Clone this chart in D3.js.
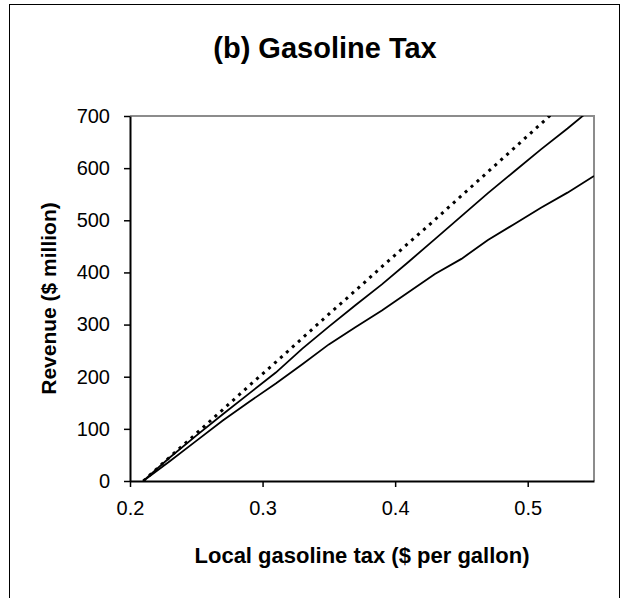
<!DOCTYPE html>
<html>
<head>
<meta charset="utf-8">
<script src="https://cdn.jsdelivr.net/npm/d3@7/dist/d3.min.js"></script>
<style>
  html, body { margin: 0; padding: 0; background: #fff; }
  svg { display: block; font-family: "Liberation Sans", Arial, sans-serif; }
</style>
</head>
<body>
<svg id="chart" width="624" height="598"></svg>
<script>
// Local gasoline tax rate ($ per gallon)
const taxRates = [0.21, 0.23, 0.25, 0.27, 0.29, 0.31, 0.33, 0.35, 0.37, 0.39,
                  0.41, 0.43, 0.45, 0.47, 0.49, 0.51, 0.53, 0.55];

// Revenue ($ million) for the three scenarios
const revenueDotted = [0, 46, 91, 137, 183, 228, 274, 320, 365, 411,
                       456, 501, 547, 593, 639, 685, 731, 776];
const revenueUpper  = [0, 45, 87, 128, 168, 208, 254, 296, 337, 377,
                       420, 464, 508, 552, 594, 636, 676, 718];
const revenueLower  = [0, 38, 77, 116, 152, 187, 224, 262, 295, 327,
                       362, 397, 426, 462, 493, 524, 553, 585];

const xTicks = [0.2, 0.3, 0.4, 0.5];
const yTicks = [0, 100, 200, 300, 400, 500, 600, 700];

const titleText = "(b) Gasoline Tax";
const xTitle = "Local gasoline tax ($ per gallon)";
const yTitle = "Revenue ($ million)";

const svg = d3.select("#chart");
const plot = { left: 130, right: 594, top: 116, bottom: 481 };

const x = d3.scaleLinear().domain([0.2, 0.55]).range([plot.left, plot.right]);
const y = d3.scaleLinear().domain([0, 700]).range([plot.bottom, plot.top]);

// Outer chart frame
svg.append("rect")
  .attr("x", 9.5).attr("y", 4.5)
  .attr("width", 610).attr("height", 620)
  .attr("fill", "none").attr("stroke", "#000").attr("stroke-width", 1);

// Title
svg.append("text")
  .attr("x", 325).attr("y", 58)
  .attr("text-anchor", "middle")
  .attr("font-size", 29).attr("font-weight", "bold")
  .text(titleText);

// Plot-area border (top and right sides grey)
svg.append("path")
  .attr("d", `M${plot.left},${plot.top}H${plot.right}V${plot.bottom}`)
  .attr("fill", "none").attr("stroke", "#8c8c8c").attr("stroke-width", 2);

// Clip lines to the plot area
svg.append("clipPath").attr("id", "plotClip")
  .append("rect")
  .attr("x", plot.left).attr("y", plot.top)
  .attr("width", plot.right - plot.left).attr("height", plot.bottom - plot.top);

const line = d3.line().x(d => x(d[0])).y(d => y(d[1]));
const lines = svg.append("g").attr("clip-path", "url(#plotClip)");

const series = [
  { values: revenueLower, width: 1.8, dash: null },
  { values: revenueUpper, width: 1.8, dash: null },
  { values: revenueDotted, width: 3, dash: "3,5" }
];
series.forEach(s => {
  lines.append("path")
    .datum(taxRates.map((t, i) => [t, s.values[i]]))
    .attr("d", line)
    .attr("fill", "none")
    .attr("stroke", "#000")
    .attr("stroke-width", s.width)
    .attr("stroke-dasharray", s.dash);
});

// Axes
const xAxis = svg.append("g")
  .attr("transform", `translate(0,${plot.bottom})`)
  .call(d3.axisBottom(x).tickValues(xTicks).tickFormat(d3.format(".1f"))
        .tickSizeInner(6).tickSizeOuter(0).tickPadding(14));
const yAxis = svg.append("g")
  .attr("transform", `translate(${plot.left},0)`)
  .call(d3.axisLeft(y).tickValues(yTicks).tickFormat(d3.format("d"))
        .tickSizeInner(6).tickSizeOuter(0).tickPadding(14));

[xAxis, yAxis].forEach(a => {
  a.select(".domain").attr("stroke", "#000").attr("stroke-width", 2);
  a.selectAll(".tick line").attr("stroke", "#000").attr("stroke-width", 1.5);
  a.selectAll(".tick text")
    .attr("font-family", "Liberation Sans, Arial, sans-serif")
    .attr("font-size", 20).attr("fill", "#000");
});

// Axis titles
svg.append("text")
  .attr("x", (plot.left + plot.right) / 2).attr("y", 563)
  .attr("text-anchor", "middle")
  .attr("font-size", 22).attr("font-weight", "bold")
  .text(xTitle);

svg.append("text")
  .attr("transform", `translate(56,${(plot.top + plot.bottom) / 2}) rotate(-90)`)
  .attr("text-anchor", "middle")
  .attr("font-size", 21).attr("font-weight", "bold")
  .text(yTitle);
</script>
</body>
</html>
